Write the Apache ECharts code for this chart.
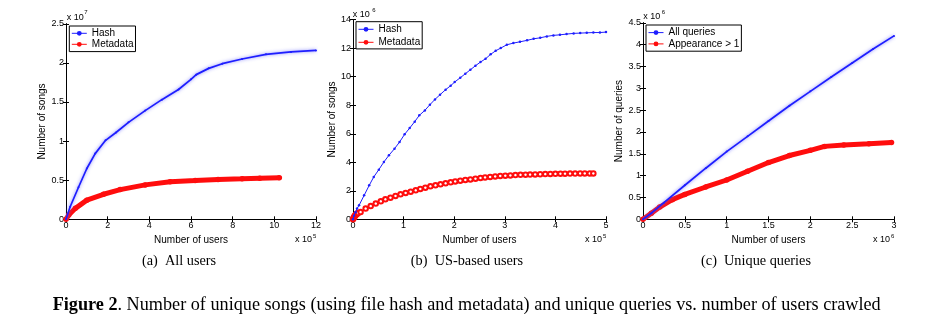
<!DOCTYPE html>
<html>
<head>
<meta charset="utf-8">
<script src="https://cdn.jsdelivr.net/npm/echarts@6/dist/echarts.min.js"></script>
<style>
html,body{margin:0;padding:0;background:#fff;}
#c{width:933px;height:322px;}
</style>
</head>
<body>
<div id="c"></div>
<script>
// ---- Panel (a) All users : x in 1e5 users, y in 1e7 songs
var aHashX = [0, 0.2, 0.6, 1.0, 1.4, 1.9, 2.4, 3.0, 3.8, 4.6, 5.4, 6.0, 6.25, 6.85, 7.5, 8.45, 9.6, 10.8, 12];
var aHashY = [0, 0.16, 0.41, 0.65, 0.84, 1.01, 1.11, 1.24, 1.39, 1.53, 1.66, 1.79, 1.85, 1.93, 1.99, 2.05, 2.11, 2.14, 2.16];
var aMetaX = [0, 0.13, 0.45, 1.0, 1.8, 2.6, 3.8, 5.0, 6.2, 7.3, 8.45, 9.3, 10.24];
var aMetaY = [0, 0.055, 0.14, 0.245, 0.32, 0.38, 0.44, 0.48, 0.495, 0.51, 0.517, 0.525, 0.53];

// ---- Panel (b) US-based users : x in 1e5 users, y in 1e6 songs
var bHashX = [0, 0.02, 0.05, 0.08, 0.12, 0.22, 0.32, 0.41, 0.51, 0.61, 0.71, 0.82, 0.92, 1.02, 1.12, 1.22, 1.31, 1.42, 1.52, 1.62, 1.72, 1.83, 1.93, 2.01, 2.12, 2.22, 2.32, 2.42, 2.52, 2.62, 2.72, 2.82, 2.92, 3.04, 3.17, 3.3, 3.44, 3.57, 3.7, 3.83, 3.96, 4.09, 4.22, 4.36, 4.49, 4.62, 4.75, 4.88, 5.0];
var bHashY = [0, 0.25, 0.5, 0.75, 0.98, 1.68, 2.38, 2.97, 3.48, 4.02, 4.49, 4.95, 5.42, 5.96, 6.4, 6.85, 7.29, 7.64, 8.04, 8.41, 8.74, 9.09, 9.37, 9.63, 9.93, 10.21, 10.49, 10.77, 11.03, 11.26, 11.57, 11.82, 12.01, 12.24, 12.36, 12.45, 12.55, 12.66, 12.73, 12.83, 12.9, 12.94, 12.99, 13.04, 13.06, 13.08, 13.1, 13.1, 13.13];
var bMetaX = [0, 0.01, 0.02, 0.03, 0.04, 0.05, 0.06, 0.07, 0.08, 0.1, 0.15, 0.25, 0.35, 0.45, 0.55, 0.64, 0.74, 0.84, 0.94, 1.04, 1.14, 1.24, 1.33, 1.43, 1.53, 1.63, 1.73, 1.83, 1.93, 2.02, 2.12, 2.22, 2.32, 2.42, 2.52, 2.61, 2.71, 2.81, 2.91, 3.01, 3.11, 3.21, 3.31, 3.41, 3.5, 3.6, 3.7, 3.8, 3.9, 4.0, 4.1, 4.19, 4.29, 4.39, 4.49, 4.58, 4.68, 4.75];
var bMetaY = [0, 0.08, 0.15, 0.2, 0.25, 0.3, 0.33, 0.36, 0.39, 0.44, 0.51, 0.75, 0.93, 1.1, 1.26, 1.4, 1.52, 1.64, 1.75, 1.85, 1.94, 2.03, 2.13, 2.22, 2.31, 2.38, 2.45, 2.52, 2.59, 2.66, 2.71, 2.76, 2.8, 2.85, 2.9, 2.94, 2.97, 3.01, 3.04, 3.06, 3.08, 3.1, 3.12, 3.13, 3.14, 3.15, 3.16, 3.17, 3.18, 3.19, 3.2, 3.2, 3.21, 3.21, 3.22, 3.22, 3.22, 3.22];

// ---- Panel (c) Unique queries : x in 1e6 users, y in 1e6 queries
var cAllX = [0, 0.1, 0.25, 0.5, 0.75, 1.0, 1.25, 1.5, 1.75, 2.0, 2.25, 2.5, 2.75, 3.0];
var cAllY = [0, 0.14, 0.38, 0.78, 1.17, 1.55, 1.9, 2.25, 2.6, 2.93, 3.26, 3.58, 3.9, 4.2];
var cAppX = [0, 0.1, 0.2, 0.35, 0.5, 0.75, 1.0, 1.25, 1.5, 1.75, 2.0, 2.17, 2.4, 2.7, 2.97];
var cAppY = [0, 0.14, 0.28, 0.45, 0.57, 0.74, 0.9, 1.1, 1.3, 1.46, 1.58, 1.67, 1.7, 1.73, 1.76];

// ---- axis ranges / labels
var xRanges = [[0, 12, 2], [0, 5, 1], [0, 3, 0.5]];
var yRanges = [[0, 2.5, 0.5], [0, 14, 2], [0, 4.5, 0.5]];
var yNames = ['Number of songs', 'Number of songs', 'Number of queries'];
var xName = 'Number of users';
var topExp = ['7', '6', '6'];
var bottomExp = ['5', '5', '6'];
var subCaptions = ['(a)  All users', '(b)  US-based users', '(c)  Unique queries'];

function pairs(xs, ys) { return xs.map(function (x, i) { return [x, ys[i]]; }); }

var BLUE = '#1e1eff', RED = '#ff0d0d';
var SANS = 'Liberation Sans, Arial, Helvetica, sans-serif';
var SERIF = 'Liberation Serif, Times New Roman, serif';

var grids = [
  { left: 66, top: 23.8, width: 250, height: 195.5 },
  { left: 353, top: 19.7, width: 253, height: 199.6 },
  { left: 643, top: 22.8, width: 251, height: 196.5 }
];
var yNameGap = [13.5, 12, 14];

var xAxes = [], yAxes = [];
grids.forEach(function (g, i) {
  var xr = xRanges[i], yr = yRanges[i];
  var common = {
    type: 'value', gridIndex: i,
    axisLine: { show: true, lineStyle: { color: '#000', width: 1 } },
    axisTick: { show: true, inside: true, length: 3, lineStyle: { color: '#000' } },
    splitLine: { show: false }
  };
  xAxes.push(Object.assign({}, common, {
    min: xr[0], max: xr[1], interval: xr[2], position: 'bottom',
    name: xName, nameLocation: 'middle', nameGap: 10.5,
    nameTextStyle: { fontFamily: SANS, fontSize: 10, color: '#000' },
    axisLabel: { fontFamily: SANS, fontSize: 9, color: '#000', margin: 2 }
  }));
  xAxes.push(Object.assign({}, common, {
    min: xr[0], max: xr[1], interval: xr[2], position: 'top',
    axisLabel: { show: false }
  }));
  yAxes.push(Object.assign({}, common, {
    min: yr[0], max: yr[1], interval: yr[2], position: 'left',
    name: yNames[i], nameLocation: 'middle', nameGap: yNameGap[i], nameRotate: 90,
    nameTextStyle: { fontFamily: SANS, fontSize: 10, color: '#000' },
    axisLabel: { fontFamily: SANS, fontSize: 9, color: '#000', margin: 2 }
  }));
  yAxes.push(Object.assign({}, common, {
    min: yr[0], max: yr[1], interval: yr[2], position: 'right',
    axisLabel: { show: false }
  }));
});

var halo = { shadowColor: 'rgba(100,100,255,0.85)', shadowBlur: 3.5 };

var series = [
  { name: 'Hash', type: 'line', xAxisIndex: 0, yAxisIndex: 0, data: pairs(aHashX, aHashY),
    symbol: 'circle', symbolSize: 2, itemStyle: { color: BLUE },
    lineStyle: Object.assign({ color: BLUE, width: 1.7 }, halo), animation: false, z: 3 },
  { name: 'Metadata', type: 'line', xAxisIndex: 0, yAxisIndex: 0, data: pairs(aMetaX, aMetaY),
    symbol: 'circle', symbolSize: 5.5, itemStyle: { color: RED },
    lineStyle: { color: RED, width: 5 }, animation: false, z: 2 },
  { name: 'Hash', type: 'line', xAxisIndex: 2, yAxisIndex: 2, data: pairs(bHashX, bHashY),
    symbol: 'circle', symbolSize: 2.5, itemStyle: { color: BLUE },
    lineStyle: { color: BLUE, width: 1 }, animation: false, z: 3 },
  { name: 'Metadata', type: 'line', xAxisIndex: 2, yAxisIndex: 2, data: pairs(bMetaX, bMetaY),
    symbol: 'emptyCircle', symbolSize: 4.5, itemStyle: { color: RED, borderWidth: 1 },
    lineStyle: { color: RED, width: 1 }, animation: false, z: 2 },
  { name: 'All queries', type: 'line', xAxisIndex: 4, yAxisIndex: 4, data: pairs(cAllX, cAllY),
    symbol: 'circle', symbolSize: 2, itemStyle: { color: BLUE },
    lineStyle: Object.assign({ color: BLUE, width: 1.7 }, halo), animation: false, z: 3 },
  { name: 'Appearance > 1', type: 'line', xAxisIndex: 4, yAxisIndex: 4, data: pairs(cAppX, cAppY),
    symbol: 'circle', symbolSize: 5.5, itemStyle: { color: RED },
    lineStyle: { color: RED, width: 5 }, animation: false, z: 2 }
];

function legendAt(left, top, names, gap, pad) {
  return {
    show: true, orient: 'vertical', left: left, top: top,
    data: names.map(function (n) { return { name: n, lineStyle: { width: 1 }, itemStyle: { borderWidth: 1 } }; }),
    itemWidth: 15, itemHeight: 6, itemGap: gap, padding: pad,
    borderColor: '#000', borderWidth: 1, backgroundColor: '#fff', borderRadius: 0,
    selectedMode: false,
    textStyle: { fontFamily: SANS, fontSize: 10, color: '#000', lineHeight: 10 }
  };
}

var legends = [
  legendAt(69.3, 26, ['Hash', 'Metadata'], 1, [2.3, 2, 2.3, 2]),
  legendAt(356, 21.7, ['Hash', 'Metadata'], 3, [2.6, 2, 1.6, 2]),
  legendAt(646, 25, ['All queries', 'Appearance > 1'], 1.3, [2.6, 2, 2.3, 2])
];

var graphics = [];
var topPos = [[66.7, 17.5, 84.3, 12], [352.7, 15, 372.3, 10.5], [643.3, 16.7, 661.7, 12]];
var botRight = [316, 606, 894];
var capX = [179, 467, 756];
for (var i = 0; i < 3; i++) {
  graphics.push({ type: 'text', style: { text: 'x 10', x: topPos[i][0], y: topPos[i][1], font: '9px ' + SANS, fill: '#000', textVerticalAlign: 'middle' } });
  graphics.push({ type: 'text', style: { text: topExp[i], x: topPos[i][2], y: topPos[i][3], font: '6px ' + SANS, fill: '#000', textVerticalAlign: 'middle' } });
  graphics.push({ type: 'text', style: { text: 'x 10', x: botRight[i] - 4, y: 240, font: '9px ' + SANS, fill: '#000', textAlign: 'right', textVerticalAlign: 'middle' } });
  graphics.push({ type: 'text', style: { text: bottomExp[i], x: botRight[i] - 3, y: 236, font: '6px ' + SANS, fill: '#000', textVerticalAlign: 'middle' } });
  graphics.push({ type: 'text', style: { text: subCaptions[i], x: capX[i], y: 261, font: '14.3px ' + SERIF, fill: '#000', textAlign: 'center', textVerticalAlign: 'middle' } });
}
graphics.push({
  type: 'text',
  style: {
    text: '{b|Figure 2}. Number of unique songs (using file hash and metadata) and unique queries vs. number of users crawled',
    x: 52.7, y: 305, font: '18.2px ' + SERIF, fill: '#000', textVerticalAlign: 'middle',
    rich: { b: { fontFamily: SERIF, fontSize: 18.2, fontWeight: 'bold', fill: '#000' } }
  }
});

var chart = echarts.init(document.getElementById('c'), null, { renderer: 'canvas' });
chart.setOption({
  backgroundColor: '#fff',
  animation: false,
  grid: grids,
  xAxis: xAxes,
  yAxis: yAxes,
  legend: legends,
  series: series,
  graphic: graphics
});
</script>
</body>
</html>
